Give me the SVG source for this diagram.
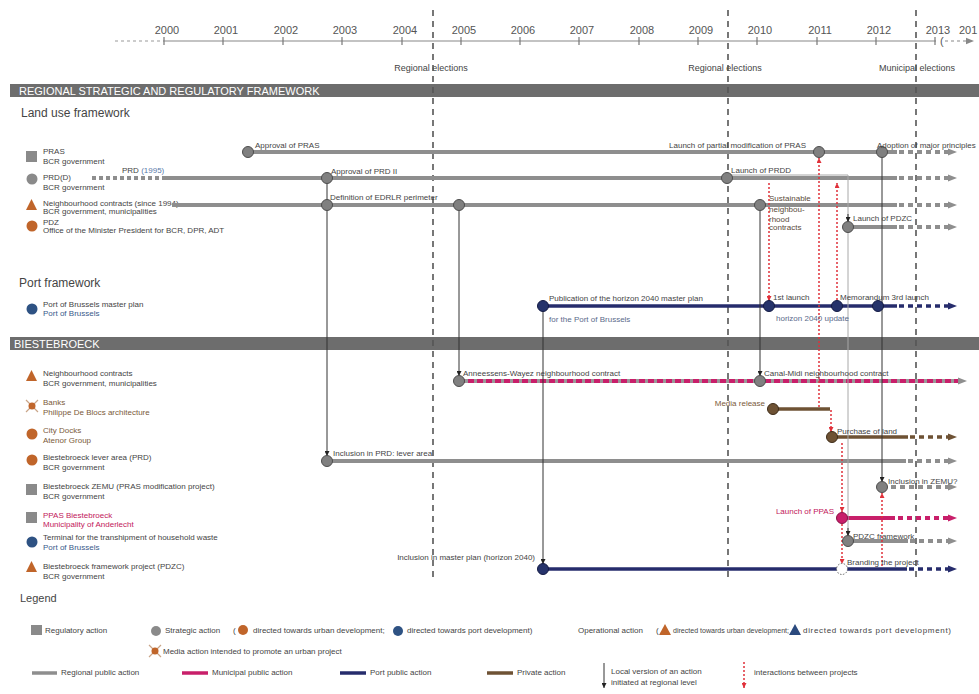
<svg xmlns="http://www.w3.org/2000/svg" width="979" height="694" viewBox="0 0 979 694">
<style>
text{font-family:"Liberation Sans",Arial,sans-serif;fill:#444}
.yr{font-size:11px;fill:#555;text-anchor:middle}
.l{font-size:8px}
.ev{font-size:9px;text-anchor:middle}
.sec{font-size:12px;fill:#444}
.bt{font-size:11px;fill:#fff}
.el{stroke:#555;stroke-width:1.6;stroke-dasharray:6 5;fill:none}
.gl{stroke:#8e8e8e;stroke-width:4;fill:none}
.gd{stroke:#8e8e8e;stroke-width:4;stroke-dasharray:5 4;fill:none;marker-end:url(#aG)}
.nl{stroke:#262c6c;stroke-width:3.5;fill:none}
.nd{stroke:#262c6c;stroke-width:3.5;stroke-dasharray:5 4;fill:none;marker-end:url(#aN)}
.pl{stroke:#c81f6a;stroke-width:4;fill:none}
.pd{stroke:#c81f6a;stroke-width:4;stroke-dasharray:5 4;fill:none;marker-end:url(#aP)}
.bl{stroke:#6e5234;stroke-width:3.5;fill:none}
.bd{stroke:#6e5234;stroke-width:3.5;stroke-dasharray:5 4;fill:none;marker-end:url(#aB)}
.gc{fill:#808080;stroke:#4d4d4d;stroke-width:1}
.nc{fill:#26336b;stroke:#141b44;stroke-width:1}
.bc{fill:#6e5234;stroke:#3e2c18;stroke-width:1}
.pc{fill:#c81f6a;stroke:#8a1046;stroke-width:1}
.loc{stroke:#333;stroke-width:1;fill:none;marker-end:url(#aK)}
.locg{stroke:#a8a8a8;stroke-width:1;fill:none}
.red{stroke:#e0303a;stroke-width:1.5;stroke-dasharray:2 2;fill:none;marker-end:url(#aR)}
.sq{fill:#8a8a8a}
.or{fill:#c0652a}
.bu{fill:#2e5283}
.pk{fill:#c2185b}
.br{fill:#7a5a3a}
.blt{fill:#3a5a8a}
</style>
<defs>
<marker id="aG" markerUnits="userSpaceOnUse" markerWidth="9" markerHeight="9" viewBox="0 0 10 10" refX="0" refY="5" orient="auto"><path d="M0,1 L10,5 L0,9z" fill="#8e8e8e"/></marker>
<marker id="aN" markerUnits="userSpaceOnUse" markerWidth="9" markerHeight="9" viewBox="0 0 10 10" refX="0" refY="5" orient="auto"><path d="M0,1 L10,5 L0,9z" fill="#262c6c"/></marker>
<marker id="aP" markerUnits="userSpaceOnUse" markerWidth="9" markerHeight="9" viewBox="0 0 10 10" refX="0" refY="5" orient="auto"><path d="M0,1 L10,5 L0,9z" fill="#c81f6a"/></marker>
<marker id="aB" markerUnits="userSpaceOnUse" markerWidth="9" markerHeight="9" viewBox="0 0 10 10" refX="0" refY="5" orient="auto"><path d="M0,1 L10,5 L0,9z" fill="#6e5234"/></marker>
<marker id="aK" markerUnits="userSpaceOnUse" markerWidth="5" markerHeight="5" viewBox="0 0 10 10" refX="10" refY="5" orient="auto"><path d="M0,0 L10,5 L0,10z" fill="#222"/></marker>
<marker id="aR" markerUnits="userSpaceOnUse" markerWidth="5" markerHeight="5" viewBox="0 0 10 10" refX="10" refY="5" orient="auto"><path d="M0,0 L10,5 L0,10z" fill="#e0303a"/></marker>
<marker id="aT" markerUnits="userSpaceOnUse" markerWidth="8" markerHeight="8" viewBox="0 0 10 10" refX="0" refY="5" orient="auto"><path d="M0,1 L10,5 L0,9z" fill="#888"/></marker>
</defs>
<rect width="979" height="694" fill="#fff"/>

<g id="timeline">
<line x1="115" y1="41" x2="163" y2="41" stroke="#999" stroke-width="1.2" stroke-dasharray="3 3"/>
<line x1="163" y1="41" x2="936" y2="41" stroke="#888" stroke-width="1.2"/>
<line x1="945" y1="41" x2="966" y2="41" stroke="#888" stroke-width="1.2" stroke-dasharray="3 3" marker-end="url(#aT)"/>
<g stroke="#777" stroke-width="1.2">
<line x1="164" y1="37" x2="164" y2="45"/><line x1="223" y1="37" x2="223" y2="45"/><line x1="283" y1="37" x2="283" y2="45"/><line x1="342" y1="37" x2="342" y2="45"/><line x1="402" y1="37" x2="402" y2="45"/><line x1="461" y1="37" x2="461" y2="45"/><line x1="520" y1="37" x2="520" y2="45"/><line x1="579" y1="37" x2="579" y2="45"/><line x1="639" y1="37" x2="639" y2="45"/><line x1="698" y1="37" x2="698" y2="45"/><line x1="757" y1="37" x2="757" y2="45"/><line x1="817" y1="37" x2="817" y2="45"/><line x1="876" y1="37" x2="876" y2="45"/><line x1="935" y1="37" x2="935" y2="45"/>
</g>
<text class="yr" x="167" y="34">2000</text><text class="yr" x="226" y="34">2001</text><text class="yr" x="286" y="34">2002</text><text class="yr" x="345" y="34">2003</text><text class="yr" x="405" y="34">2004</text><text class="yr" x="464" y="34">2005</text><text class="yr" x="523" y="34">2006</text><text class="yr" x="582" y="34">2007</text><text class="yr" x="642" y="34">2008</text><text class="yr" x="701" y="34">2009</text><text class="yr" x="760" y="34">2010</text><text class="yr" x="820" y="34">2011</text><text class="yr" x="879" y="34">2012</text><text class="yr" x="938" y="34">2013</text>
<text x="940" y="45" style="font-size:11px;fill:#555">(</text>
<text x="959" y="34" style="font-size:11px;fill:#555">201</text>
<text class="ev" x="431" y="71">Regional elections</text>
<text class="ev" x="725" y="71">Regional elections</text>
<text class="ev" x="917" y="71">Municipal elections</text>
</g>

<g id="sections">
<rect x="10" y="84" width="969" height="13" fill="#6d6d6d"/>
<text class="bt" x="19" y="94.5">REGIONAL STRATEGIC AND REGULATORY FRAMEWORK</text>
<text class="sec" x="21" y="117">Land use framework</text>
<text class="sec" x="19" y="287">Port framework</text>
<rect x="10" y="337" width="969" height="13" fill="#6d6d6d"/>
<text class="bt" x="14" y="347.5">BIESTEBROECK</text>
</g>

<g id="legend-rows">
<g id="row-pras"><rect class="sq" x="26" y="151" width="11" height="11"/><text class="l" x="43" y="154">PRAS</text><text class="l" x="43" y="164">BCR government</text></g>
<g id="row-prd"><circle class="sq" cx="32" cy="179" r="5.5"/><text class="l" x="43" y="180">PRD(D)</text><text class="l" x="43" y="190">BCR government</text></g>
<g id="row-nc"><path class="or" d="M26,210 L31.5,199 L37,210z"/><text class="l" x="43" y="206">Neighbourhood contracts (since 1994)</text><text class="l" x="43" y="214">BCR government, municipalities</text></g>
<g id="row-pdz"><circle class="or" cx="32" cy="226" r="5.5"/><text class="l" x="43" y="225">PDZ</text><text class="l" x="43" y="233">Office of the Minister President for BCR, DPR, ADT</text></g>
<g id="row-port"><circle class="bu" cx="32" cy="309" r="5.5"/><text class="l" x="43" y="307">Port of Brussels master plan</text><text class="l blt" x="43" y="316">Port of Brussels</text></g>
<g id="row-bnc"><path class="or" d="M26,381 L31.5,370 L37,381z"/><text class="l" x="43" y="376">Neighbourhood contracts</text><text class="l" x="43" y="386">BCR government, municipalities</text></g>
<g id="row-banks"><path d="M26,400 L38,412 M38,400 L26,412" stroke="#c9a588" stroke-width="1.2"/><circle class="or" cx="32" cy="406" r="3.5"/><text class="l br" x="43" y="405">Banks</text><text class="l br" x="43" y="415">Philippe De Blocs architecture</text></g>
<g id="row-docks"><circle class="or" cx="32" cy="434" r="5.5"/><text class="l br" x="43" y="433">City Docks</text><text class="l br" x="43" y="443">Atenor Group</text></g>
<g id="row-lever"><circle class="or" cx="32" cy="460" r="5.5"/><text class="l" x="43" y="460">Biestebroeck lever area (PRD)</text><text class="l" x="43" y="470">BCR government</text></g>
<g id="row-zemu"><rect class="sq" x="26" y="484" width="11" height="11"/><text class="l" x="43" y="489">Biestebroeck ZEMU (PRAS modification project)</text><text class="l" x="43" y="499">BCR government</text></g>
<g id="row-ppas"><rect class="sq" x="26" y="512" width="11" height="11"/><text class="l pk" x="43" y="518">PPAS Biestebroeck</text><text class="l pk" x="43" y="527">Municipality of Anderlecht</text></g>
<g id="row-terminal"><circle class="bu" cx="32" cy="542" r="5.5"/><text class="l" x="43" y="540">Terminal for the transhipment of household waste</text><text class="l blt" x="43" y="550">Port of Brussels</text></g>
<g id="row-pdzc"><path class="or" d="M26,572 L31.5,561 L37,572z"/><text class="l" x="43" y="569">Biestebroeck framework project (PDZC)</text><text class="l" x="43" y="579">BCR government</text></g>
</g>

<g id="elections">
<line class="el" x1="433" y1="10" x2="433" y2="582"/>
<line class="el" x1="728" y1="10" x2="728" y2="582"/>
<line class="el" x1="916" y1="10" x2="916" y2="582"/>
</g>

<g id="connectors">
<line class="gl" x1="248" y1="152" x2="897" y2="152"/><line class="gd" x1="899" y1="152" x2="948" y2="152"/>
<line x1="92" y1="178" x2="165" y2="178" stroke="#8e8e8e" stroke-width="4" stroke-dasharray="4 3"/>
<line class="gl" x1="165" y1="178" x2="897" y2="178"/><line class="gd" x1="899" y1="178" x2="948" y2="178"/>
<line class="gl" x1="172" y1="205" x2="897" y2="205"/><line class="gd" x1="899" y1="205" x2="948" y2="205"/>
<line class="gl" x1="848" y1="227" x2="897" y2="227"/><line class="gd" x1="899" y1="227" x2="948" y2="227"/>
<line class="nl" x1="543" y1="306" x2="897" y2="306"/><line class="nd" x1="899" y1="306" x2="948" y2="306"/>
<line x1="459" y1="381" x2="958" y2="381" stroke="#999" stroke-width="4" marker-end="url(#aG)"/>
<line x1="459" y1="381" x2="958" y2="381" stroke="#c81f6a" stroke-width="4" stroke-dasharray="6 3"/>
<line class="bl" x1="773" y1="409" x2="830" y2="409"/>
<line class="bl" x1="832" y1="437" x2="908" y2="437"/><line class="bd" x1="910" y1="437" x2="948" y2="437"/>
<line class="gl" x1="327" y1="461" x2="906" y2="461"/><line class="gd" x1="908" y1="461" x2="948" y2="461"/>
<line class="gd" x1="882" y1="487" x2="948" y2="487"/>
<line class="pl" x1="842" y1="518" x2="895" y2="518"/><line class="pd" x1="898" y1="518" x2="948" y2="518"/>
<line class="gl" x1="848" y1="541" x2="908" y2="541"/><line class="gd" x1="910" y1="541" x2="948" y2="541"/>
<line class="nl" x1="543" y1="569" x2="907" y2="569"/><line class="nd" x1="909" y1="569" x2="948" y2="569"/>

<path class="locg" d="M727,175 L848,175 L848,536"/>
<line class="loc" x1="848" y1="214" x2="848" y2="222"/>
<line class="loc" x1="848" y1="528" x2="848" y2="536"/>
<line class="loc" x1="327" y1="183" x2="327" y2="456"/>
<line class="loc" x1="459" y1="210" x2="459" y2="376"/>
<line class="loc" x1="543" y1="311" x2="543" y2="564"/>
<line class="loc" x1="760" y1="210" x2="760" y2="376"/>
<line class="loc" x1="882" y1="157" x2="882" y2="482"/>

<line class="red" x1="769" y1="183" x2="769" y2="301"/>
<line class="red" x1="819" y1="407" x2="819" y2="158"/>
<line class="red" x1="837" y1="300" x2="837" y2="183"/>
<line class="red" x1="831" y1="410" x2="831" y2="432"/>
<line class="red" x1="842" y1="443" x2="842" y2="512"/>
<line class="red" x1="842" y1="524" x2="842" y2="564"/>
<line class="red" x1="882" y1="566" x2="882" y2="493"/>
</g>

<g id="nodes">
<g id="n-pras1"><circle class="gc" cx="248" cy="152" r="5.5"/><text class="l" x="255" y="148">Approval of PRAS</text></g>
<g id="n-pras2"><circle class="gc" cx="819" cy="152" r="5.5"/><text class="l" x="806" y="148" text-anchor="end">Launch of partial modification of PRAS</text></g>
<g id="n-pras3"><circle class="gc" cx="882" cy="152" r="5.5"/><text class="l" x="877" y="148">Adoption of major principles</text></g>
<g id="n-prd0"><text class="l" x="122" y="173">PRD <tspan style="fill:#5a7aaa">(1995)</tspan></text></g>
<g id="n-prd1"><circle class="gc" cx="327" cy="178" r="5.5"/><text class="l" x="331" y="174">Approval of PRD II</text></g>
<g id="n-prd2"><circle class="gc" cx="727" cy="178" r="5.5"/><text class="l" x="731" y="173">Launch of PRDD</text></g>
<g id="n-nc1"><circle class="gc" cx="327" cy="205" r="5.5"/><text class="l" x="330" y="200">Definition of EDRLR perimeter</text></g>
<g id="n-nc2"><circle class="gc" cx="459" cy="205" r="5.5"/></g>
<g id="n-nc3"><circle class="gc" cx="760" cy="205" r="5.5"/><text class="l" x="769" y="201" style="fill:#5a4a3a">Sustainable</text><text class="l" x="769" y="212" style="fill:#5a4a3a">neighbou-</text><text class="l" x="769" y="222" style="fill:#5a4a3a">rhood</text><text class="l" x="769" y="230" style="fill:#5a4a3a">contracts</text></g>
<g id="n-pdz"><circle class="gc" cx="848" cy="227" r="5.5"/><text class="l" x="853" y="221">Launch of PDZC</text></g>
<g id="n-port1"><circle class="nc" cx="543" cy="306" r="5.5"/><text class="l" x="549" y="301">Publication of the horizon 2040 master plan</text><text class="l" x="549" y="322" style="fill:#5a6a8a">for the Port of Brussels</text></g>
<g id="n-port2"><circle class="nc" cx="769" cy="306" r="5.5"/><text class="l" x="773" y="300">1st launch</text><text class="l" x="776" y="321" style="fill:#5a6a8a">horizon 2040 update</text></g>
<g id="n-port3"><circle class="nc" cx="837" cy="306" r="5.5"/><text class="l" x="840" y="300">Memorandum 3rd launch</text></g>
<g id="n-port4"><circle class="nc" cx="878" cy="306" r="5.5"/></g>
<g id="n-bnc1"><circle class="gc" cx="459" cy="381" r="5.5"/><text class="l" x="463" y="376">Anneessens-Wayez neighbourhood contract</text></g>
<g id="n-bnc2"><circle class="gc" cx="760" cy="381" r="5.5"/><text class="l" x="764" y="376">Canal-Midi neighbourhood contract</text></g>
<g id="n-media"><circle class="bc" cx="773" cy="409" r="5.5"/><text class="l br" x="765" y="406" text-anchor="end">Media release</text></g>
<g id="n-land"><circle class="bc" cx="832" cy="437" r="5.5"/><text class="l" x="837" y="434">Purchase of land</text></g>
<g id="n-lever"><circle class="gc" cx="327" cy="461" r="5.5"/><text class="l" x="333" y="456">Inclusion in PRD: lever area</text></g>
<g id="n-zemu"><circle class="gc" cx="882" cy="487" r="5.5"/><text class="l" x="888" y="484">Inclusion in ZEMU?</text></g>
<g id="n-ppas"><circle class="pc" cx="842" cy="518" r="5.5"/><text class="l pk" x="834" y="514" text-anchor="end">Launch of PPAS</text></g>
<g id="n-pdzcf"><circle class="gc" cx="848" cy="541" r="5.5"/><text class="l" x="853" y="539">PDZC framework</text></g>
<g id="n-master"><circle class="nc" cx="543" cy="569" r="5.5"/><text class="l" x="535" y="560" text-anchor="end">Inclusion in master plan (horizon 2040)</text></g>
<g id="n-brand"><circle cx="842" cy="569" r="5.5" fill="#fff" stroke="#666" stroke-width="1" stroke-dasharray="1.5 1.5"/><text class="l" x="847" y="565">Branding the project</text></g>
</g>

<g id="legend">
<text x="20" y="602" style="font-size:11px">Legend</text>
<rect class="sq" x="31" y="625" width="11" height="10"/><text class="l" x="45" y="633">Regulatory action</text>
<circle class="sq" cx="156" cy="631" r="5"/><text class="l" x="165" y="633">Strategic action</text>
<text class="l" x="233" y="633">(</text><circle class="or" cx="243" cy="630" r="5"/><text class="l" x="253" y="633">directed towards urban development;</text>
<circle class="bu" cx="398" cy="631" r="5"/><text class="l" x="407" y="633">directed towards port development)</text>
<text class="l" x="578" y="633">Operational action</text>
<text class="l" x="656" y="633">(</text><path class="or" d="M659,635 L665,624 L671,635z"/><text class="l" x="673" y="633" textLength="116" lengthAdjust="spacingAndGlyphs">directed towards urban development;</text>
<path d="M789,635 L795,624 L801,635z" fill="#2b4a7e"/><text class="l" x="803" y="633" textLength="148" lengthAdjust="spacing">directed towards port development)</text>
<path d="M149,645 L161,657 M161,645 L149,657" stroke="#c9a588" stroke-width="1.2"/><circle class="or" cx="155" cy="651" r="3.5"/><text class="l" x="163" y="654">Media action intended to promote an urban project</text>
<line x1="32" y1="673" x2="57" y2="673" stroke="#8e8e8e" stroke-width="3.5"/><text class="l" x="61" y="675">Regional public action</text>
<line x1="182" y1="673" x2="208" y2="673" stroke="#c81f6a" stroke-width="3.5"/><text class="l" x="212" y="675">Municipal public action</text>
<line x1="340" y1="673" x2="366" y2="673" stroke="#262c6c" stroke-width="3.5"/><text class="l" x="370" y="675">Port public action</text>
<line x1="487" y1="673" x2="513" y2="673" stroke="#6e5234" stroke-width="3.5"/><text class="l" x="517" y="675">Private action</text>
<line class="loc" x1="604" y1="663" x2="604" y2="688"/><text class="l" x="611" y="674">Local version of an action</text><text class="l" x="611" y="685">initiated at regional level</text>
<line class="red" x1="744" y1="662" x2="744" y2="688"/><text class="l" x="754" y="675">interactions between projects</text>
</g>
</svg>
